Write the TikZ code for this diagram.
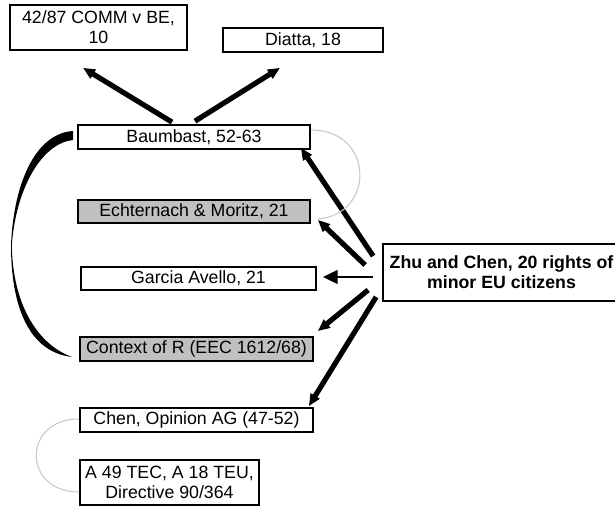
\documentclass[tikz,border=0pt]{standalone}
\usepackage{fontspec}
\setmainfont{Liberation Sans}
\usetikzlibrary{arrows.meta,calc}
\definecolor{boxgray}{RGB}{192,192,192}
\definecolor{linkgray}{RGB}{200,200,200}
\begin{document}
\begin{tikzpicture}[x=0.75pt,y=-0.75pt,
  case/.style={draw=black,line width=1.3pt,fill=white,inner sep=0pt,
    align=center,font=\fontsize{13.3}{15}\selectfont},
  shaded/.style={case,fill=boxgray},
  size/.style 2 args={minimum width=#1*0.75pt,minimum height=#2*0.75pt},
  big/.style={line width=3.9pt,-{Triangle[length=9pt,width=7.5pt]}},
  slim/.style={line width=2.2pt,-{Triangle[length=11pt,width=10pt]}},
  link/.style={draw=linkgray,line width=0.8pt}]
\useasboundingbox (0,0) rectangle (615,506);

% case boxes
\node[case,size={177}{45}] (comm) at (98.5,27.5) {42/87 COMM v BE,\\10};
\node[case,size={160}{24}] (diatta) at (303,40) {Diatta, 18};
\node[case,size={232}{24}] (baum) at (194,137) {Baumbast, 52-63};
\node[shaded,size={232}{23}] (echt) at (194,211.5) {Echternach \& Moritz, 21};
\node[case,size={235}{23}] (garcia) at (198.5,278.5) {Garcia Avello, 21};
\node[shaded,size={233}{24}] (context) at (196.5,349) {Context of R (EEC 1612/68)};
\node[case,size={233}{24}] (chen) at (196.5,420) {Chen, Opinion AG (47-52)};
\node[case,size={179}{45}] (art) at (169.5,482.5) {A 49 TEC, A 18 TEU,\\Directive 90/364};
\node[case,size={237}{57},font=\fontsize{13.3}{15}\selectfont\bfseries] (zhu) at (501.5,272.5) {Zhu and Chen, 20 rights of\\minor EU citizens};

% arrows out of Baumbast
\draw[big] ($(baum.north)+(-22,-2)$) -- ($(comm.south)+(-15.5,17)$);
\draw[big] ($(baum.north)+(1,-3)$) -- ($(diatta.south)+(-23,15)$);

% arrows out of Zhu and Chen
\draw[big] ($(zhu.west)+(-9,-16.5)$) -- ($(baum.south east)+(-10,-2)$);
\draw[big] ($(zhu.west)+(-17,-7.5)$) -- ($(echt.south east)+(7,-4)$);
\draw[slim] ($(zhu.west)+(-9,4.5)$) -- ($(garcia.east)+(6,-1.5)$);
\draw[big] ($(zhu.west)+(-14,17.5)$) -- ($(context.north east)+(4,-5)$);
\draw[big] ($(zhu.west)+(-6,24.5)$) -- ($(chen.north east)+(-5,-1)$);

% thin grey links
\draw[link] ($(baum.east)+(0,-7)$) .. controls (375,130) and (375,215) .. ($(echt.south east)+(7,-5)$);
\draw[link] ($(chen.west)+(0,-1)$) .. controls (22,419) and (22,492) .. ($(art.west)+(0,9.5)$);

% tapered curve from Baumbast down to the context box
\coordinate (ctop) at ($(baum.west)+(-4,-1)$);
\coordinate (cbot) at ($(context.west)+(-7,8)$);
\fill[black] ($(ctop)+(0,-5)$) .. controls (38,133) and (14,178) .. (11,245)
  -- (11.8,245) .. controls (16,188) and (42,143) .. ($(ctop)+(0,4)$) -- cycle;
\fill[black] (11,245) .. controls (11,305) and (28,352) .. (cbot)
  .. controls (36,344) and (12.5,302) .. (11.8,245) -- cycle;
\end{tikzpicture}
\end{document}
